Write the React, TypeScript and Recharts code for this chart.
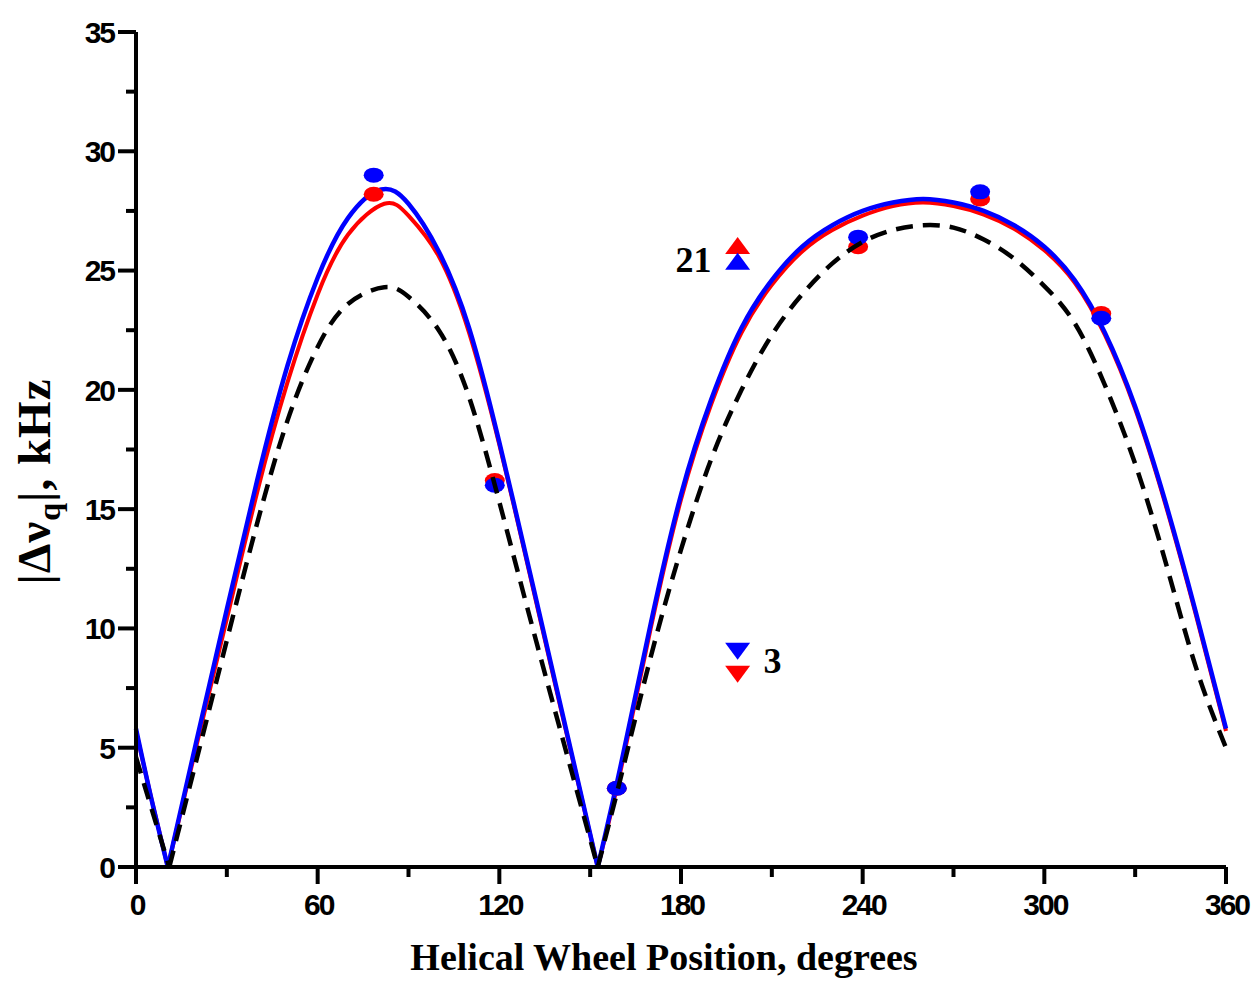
import { ComposedChart, Line, Scatter, XAxis, YAxis } from "recharts";

const RED = "#ff0000";
const BLUE = "#0000ff";

// axis ticks (majors every 60° / 5 kHz, minors in between)
const ANGLE_TICKS = [0, 30, 60, 90, 120, 150, 180, 210, 240, 270, 300, 330, 360];
const SPLITTING_TICKS = [0, 2.5, 5, 7.5, 10, 12.5, 15, 17.5, 20, 22.5, 25, 27.5, 30, 32.5, 35];

// fitted quadrupolar wave curves
const RED_FIT_ANGLE = [0, 5, 10.5, 20, 30, 40, 50, 60, 70, 82, 90, 100, 110, 120, 130, 140, 152.5, 160, 170, 180, 190, 200, 210, 220, 230, 240, 250, 260, 270, 280, 290, 300, 310, 320, 330, 340, 350, 360];
const RED_FIT_VALUE = [5.7, 2.9, 0, 5.1, 10.4, 15.7, 20.3, 24.0, 26.5, 27.8, 27.3, 25.6, 22.4, 17.7, 12.3, 6.8, 0, 4.0, 10.0, 15.4, 19.4, 22.4, 24.4, 25.8, 26.7, 27.3, 27.7, 27.85, 27.7, 27.35, 26.75, 25.85, 24.5, 22.3, 19.2, 15.2, 10.6, 5.7];

const BLUE_FIT_ANGLE = [0, 5, 10.5, 20, 30, 40, 50, 60, 70, 81, 90, 100, 110, 120, 130, 140, 152.5, 160, 170, 180, 190, 200, 210, 220, 230, 240, 250, 260, 270, 280, 290, 300, 310, 320, 330, 340, 350, 360];
const BLUE_FIT_VALUE = [5.8, 2.9, 0, 5.3, 10.8, 16.2, 21.0, 24.7, 27.2, 28.4, 27.8, 25.8, 22.6, 17.8, 12.4, 6.9, 0, 4.2, 10.2, 15.6, 19.6, 22.6, 24.6, 26.0, 26.9, 27.5, 27.85, 28.0, 27.85, 27.5, 26.9, 26.0, 24.6, 22.4, 19.3, 15.3, 10.7, 5.8];

const DASHED_FIT_ANGLE = [0, 5, 11, 20, 30, 40, 50, 60, 70, 82, 90, 100, 110, 120, 130, 140, 152.5, 160, 170, 180, 190, 200, 210, 220, 230, 240, 250, 260, 270, 280, 290, 300, 310, 320, 330, 340, 350, 360];
const DASHED_FIT_VALUE = [4.6, 2.5, 0, 4.5, 9.5, 14.4, 18.7, 21.8, 23.6, 24.3, 23.9, 22.5, 19.7, 15.3, 10.5, 5.8, 0, 3.7, 8.8, 13.3, 17.1, 20.0, 22.3, 24.0, 25.3, 26.2, 26.7, 26.9, 26.8, 26.3, 25.5, 24.35, 22.8, 20.2, 16.9, 12.8, 8.4, 5.0];

// measured splittings
const LABEL_ANGLE = [78.5, 118.5, 158.8, 238.5, 278.8, 318.8];
const RED_MEASURED = [28.2, 16.2, 3.3, 26.0, 28.0, 23.2];
const BLUE_MEASURED = [29.0, 16.0, 3.3, 26.4, 28.3, 23.0];

// in-plot key: position 21 (up triangles) and position 3 (down triangles)
const KEY_ANGLE = 198.7;
const KEY_UP = [26.05, 25.39];
const KEY_DOWN = [9.04, 8.08];
const KEY_UP_COLORS = [RED, BLUE];
const KEY_DOWN_COLORS = [BLUE, RED];
const KEY_TEXT = ["21", "3"];
const KEY_TEXT_VALUE = [25.45, 8.64];

type Pt = { x: number; y: number; fill?: string; text?: string; side?: number };

const toPoints = (xs: number[], ys: number[]): Pt[] => xs.map((x, i) => ({ x, y: ys[i] }));

// break a |Δνq| curve at its zeros so every lobe keeps a sharp cusp
function lobes(pts: Pt[]): Pt[][] {
  const out: Pt[][] = [];
  let cur: Pt[] = [];
  pts.forEach((p) => {
    cur.push(p);
    if (p.y === 0 && cur.length > 1) {
      out.push(cur);
      cur = [p];
    }
  });
  if (cur.length > 1) out.push(cur);
  return out;
}

const redLobes = lobes(toPoints(RED_FIT_ANGLE, RED_FIT_VALUE));
const blueLobes = lobes(toPoints(BLUE_FIT_ANGLE, BLUE_FIT_VALUE));
const dashedLobes = lobes(toPoints(DASHED_FIT_ANGLE, DASHED_FIT_VALUE));

const redPoints = toPoints(LABEL_ANGLE, RED_MEASURED);
const bluePoints = toPoints(LABEL_ANGLE, BLUE_MEASURED);
const keyUp: Pt[] = KEY_UP.map((y, i) => ({ x: KEY_ANGLE, y, fill: KEY_UP_COLORS[i] }));
const keyDown: Pt[] = KEY_DOWN.map((y, i) => ({ x: KEY_ANGLE, y, fill: KEY_DOWN_COLORS[i] }));
// "21" sits left of its triangles, "3" to the right
const keyText: Pt[] = KEY_TEXT.map((text, i) => ({ x: KEY_ANGLE, y: KEY_TEXT_VALUE[i], text, side: i === 0 ? -1 : 1 }));

const tickFont = {
  fontFamily: "'Liberation Sans', Arial, sans-serif",
  fontWeight: 700,
  fontSize: 30,
  letterSpacing: -2,
  fill: "#000",
};
const titleFont = {
  fontFamily: "'Liberation Serif', 'Times New Roman', serif",
  fontWeight: 700,
  fill: "#000",
};

function AngleTick({ x, y, payload }: any) {
  const v = payload.value;
  const major = v % 60 === 0;
  return (
    <g>
      <line x1={x} x2={x} y1={y} y2={y + (major ? 17 : 10)} stroke="#000" strokeWidth={4} />
      {major && (
        <text x={x + 1} y={y + 48} textAnchor="middle" {...tickFont}>
          {v}
        </text>
      )}
    </g>
  );
}

function SplittingTick({ x, y, payload }: any) {
  const v = payload.value;
  const major = v % 5 === 0;
  return (
    <g>
      <line x1={x - (major ? 18 : 10)} x2={x} y1={y} y2={y} stroke="#000" strokeWidth={4} />
      {major && (
        <text x={x - 22} y={y} dy="0.36em" textAnchor="end" {...tickFont}>
          {v}
        </text>
      )}
    </g>
  );
}

function AngleTitle({ viewBox }: any) {
  const { x = 136, width = 1090, y = 867 } = viewBox || {};
  return (
    <text x={x + width / 2 - 17} y={y + 103} textAnchor="middle" fontSize={38} {...titleFont}>
      Helical Wheel Position, degrees
    </text>
  );
}

function SplittingTitle({ viewBox }: any) {
  const { y = 32, height = 835 } = viewBox || {};
  const cx = 50;
  const cy = y + height / 2 + 32;
  return (
    <text
      x={cx}
      y={cy}
      transform={`rotate(-90, ${cx}, ${cy})`}
      textAnchor="middle"
      fontSize={47}
      letterSpacing={1}
      {...titleFont}
    >
      |Δν
      <tspan dy={10} fontSize={32}>
        q
      </tspan>
      <tspan dy={-10}>|, kHz</tspan>
    </text>
  );
}

const Dot = ({ cx, cy, fill }: any) => <ellipse cx={cx} cy={cy} rx={10} ry={7.5} fill={fill} />;

const UpTriangle = ({ cx, cy, payload }: any) => (
  <polygon
    points={`${cx - 12.5},${cy + 8.5} ${cx + 12.5},${cy + 8.5} ${cx},${cy - 8.5}`}
    fill={payload.fill}
  />
);

const DownTriangle = ({ cx, cy, payload }: any) => (
  <polygon
    points={`${cx - 12.5},${cy - 8.5} ${cx + 12.5},${cy - 8.5} ${cx},${cy + 8.5}`}
    fill={payload.fill}
  />
);

const KeyText = ({ cx, cy, payload }: any) => (
  <text
    x={cx + payload.side * 26}
    y={cy}
    dy="0.34em"
    textAnchor={payload.side < 0 ? "end" : "start"}
    fontSize={36}
    {...titleFont}
  >
    {payload.text}
  </text>
);

export default function App() {
  return (
    <div style={{ position: "absolute", left: 0, top: 0, background: "#fff" }}>
      <ComposedChart width={1257} height={981} margin={{ top: 32, right: 31, bottom: 0, left: 0 }}>
        <XAxis
          type="number"
          dataKey="x"
          domain={[0, 360]}
          ticks={ANGLE_TICKS}
          interval={0}
          height={114}
          axisLine={{ stroke: "#000", strokeWidth: 4 }}
          tickLine={false}
          tickSize={0}
          tickMargin={0}
          tick={<AngleTick />}
          label={<AngleTitle />}
        />
        <YAxis
          type="number"
          domain={[0, 35]}
          ticks={SPLITTING_TICKS}
          interval={0}
          width={136}
          axisLine={{ stroke: "#000", strokeWidth: 4 }}
          tickLine={false}
          tickSize={0}
          tickMargin={0}
          tick={<SplittingTick />}
          label={<SplittingTitle />}
        />

        {redLobes.map((seg, i) => (
          <Line
            key={`red-${i}`}
            data={seg}
            dataKey="y"
            type="natural"
            stroke={RED}
            strokeWidth={4}
            dot={false}
            activeDot={false}
            isAnimationActive={false}
          />
        ))}
        {blueLobes.map((seg, i) => (
          <Line
            key={`blue-${i}`}
            data={seg}
            dataKey="y"
            type="natural"
            stroke={BLUE}
            strokeWidth={4.5}
            dot={false}
            activeDot={false}
            isAnimationActive={false}
          />
        ))}

        <Scatter data={redPoints} dataKey="y" fill={RED} shape={<Dot />} isAnimationActive={false} />
        <Scatter data={bluePoints} dataKey="y" fill={BLUE} shape={<Dot />} isAnimationActive={false} />

        {dashedLobes.map((seg, i) => (
          <Line
            key={`dash-${i}`}
            data={seg}
            dataKey="y"
            type="natural"
            stroke="#000"
            strokeWidth={4.5}
            strokeDasharray="17 10"
            dot={false}
            activeDot={false}
            isAnimationActive={false}
            zIndex={700}
          />
        ))}

        <Scatter data={keyUp} dataKey="y" shape={<UpTriangle />} isAnimationActive={false} />
        <Scatter data={keyDown} dataKey="y" shape={<DownTriangle />} isAnimationActive={false} />
        <Scatter data={keyText} dataKey="y" shape={<KeyText />} isAnimationActive={false} />
      </ComposedChart>
    </div>
  );
}
